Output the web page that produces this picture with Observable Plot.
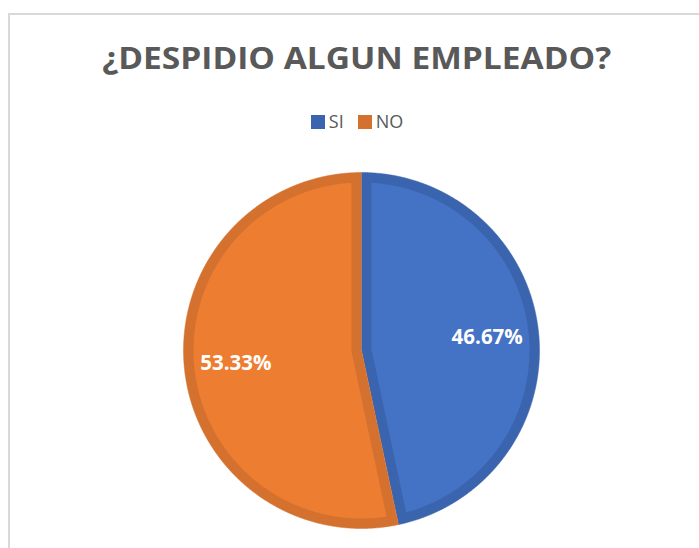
<!DOCTYPE html>
<html><head><meta charset="utf-8">
<script src="https://cdn.jsdelivr.net/npm/d3@7"></script>
<script src="https://cdn.jsdelivr.net/npm/@observablehq/plot@0.6"></script>
<style>
html,body{margin:0;padding:0;background:#fff;}
body{width:699px;height:548px;overflow:hidden;position:relative;font-family:"Open Sans",sans-serif;}
#frame{position:absolute;left:8px;top:13px;width:760px;height:600px;border-left:2px solid #d9d9d9;border-top:2px solid #d9d9d9;box-sizing:border-box;}
#title{position:absolute;left:8px;width:698px;top:36px;text-align:center;font-weight:700;font-size:30px;line-height:44px;color:#595959;white-space:nowrap;}
#title span{display:inline-block;transform-origin:center;}
#legend{position:absolute;left:8px;width:698px;top:108px;text-align:center;font-size:18px;line-height:26px;color:#595959;}
#legend .item{display:inline-block;margin:0 7px;}
#legend .sw{display:inline-block;width:14px;height:14px;margin-right:4px;vertical-align:-1px;}
#chart{position:absolute;left:0;top:150px;}
</style>
</head><body>
<div id="frame"></div>
<div id="title"><span>¿DESPIDIO ALGUN EMPLEADO?</span></div>
<div id="legend"></div>
<div id="chart"></div>
<script>
const categories = ["SI", "NO"];
const values = [46.67, 53.33];
const labels = ["46.67%", "53.33%"];
const sliceFill = ["#4472C4", "#ED7D31"];
const sliceBorder = ["#3B64AE", "#D4712E"];

// legend
const legend = document.getElementById("legend");
categories.forEach((c, i) => {
  const it = document.createElement("span");
  it.className = "item";
  it.innerHTML = `<span class="sw" style="background:${sliceBorder[i]}"></span>${c}`;
  legend.appendChild(it);
});

// fit title width
const tspan = document.querySelector("#title span");
const tw = tspan.getBoundingClientRect().width;
tspan.style.transform = `scaleX(${509 / tw})`;

// pie geometry (unit radius, y up, angles clockwise from top)
const arcs = d3.pie().sort(null)(values);
const band = 10 / 178;
const dir = a => [Math.sin(a), Math.cos(a)];
const outer = [], inner = [], labelPts = [];
arcs.forEach((a, i) => {
  const key = categories[i];
  outer.push({key, x: 0, y: 0});
  const n = Math.ceil((a.endAngle - a.startAngle) / 0.005);
  for (let k = 0; k <= n; k++) {
    const t = a.startAngle + (a.endAngle - a.startAngle) * k / n;
    const [x, y] = dir(t);
    outer.push({key, x, y});
  }
  const half = (a.endAngle - a.startAngle) / 2;
  const mid = a.startAngle + half;
  const apexD = band / Math.sin(half);
  const [ax, ay] = dir(mid);
  inner.push({key, x: ax * apexD, y: ay * apexD});
  const r2 = 1 - band;
  const del = Math.asin(band / r2);
  const s = a.startAngle + del, e = a.endAngle - del;
  for (let k = 0; k <= n; k++) {
    const t = s + (e - s) * k / n;
    const [x, y] = dir(t);
    inner.push({key, x: x * r2, y: y * r2});
  }
  labelPts.push({key, text: labels[i], x: ax * 0.71, y: ay * 0.71});
});

const marks = [];
categories.forEach((c, i) => {
  marks.push(Plot.line(outer.filter(d => d.key === c), {x: "x", y: "y", fill: sliceBorder[i], stroke: sliceBorder[i], strokeWidth: 0.5}));
  marks.push(Plot.line(inner.filter(d => d.key === c), {x: "x", y: "y", fill: sliceFill[i], stroke: "none"}));
});
marks.push(Plot.text(labelPts, {x: "x", y: "y", text: "text", fill: "white", fontWeight: "bold", fontSize: 20.5, fontFamily: "Open Sans"}));

const plot = Plot.plot({
  width: 699,
  height: 398,
  margin: 0,
  style: {background: "transparent", overflow: "visible"},
  x: {domain: [-1, 1], range: [183, 539], axis: null},
  y: {domain: [-1, 1], range: [378, 22], axis: null},
  marks
});
document.getElementById("chart").appendChild(plot);
</script>
</body></html>
